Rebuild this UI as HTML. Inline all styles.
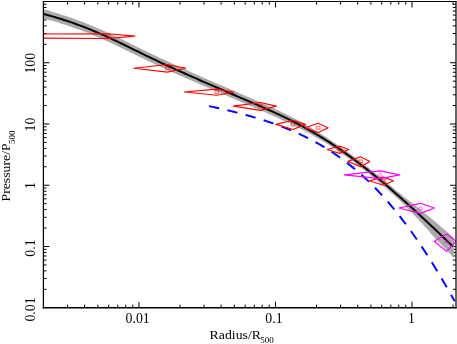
<!DOCTYPE html>
<html><head><meta charset="utf-8"><title>Pressure profile</title>
<style>
html,body{margin:0;padding:0;background:#fff;}
body{width:457px;height:344px;overflow:hidden;font-family:"Liberation Serif",serif;}
svg{display:block;will-change:transform;}
text{font-family:"Liberation Serif",serif;font-size:13.8px;fill:#000;}
.sub{font-size:9.0px;}
</style></head><body>
<svg width="457" height="344" viewBox="0 0 457 344">
<rect x="0" y="0" width="457" height="344" fill="#fff"/>
<defs><clipPath id="c"><rect x="43.4" y="1.5" width="412.6" height="306.25"/></clipPath></defs>
<path d="M67.57 307.75 v-3.15 M67.57 1.50 v3.15 M84.62 307.75 v-3.15 M84.62 1.50 v3.15 M97.85 307.75 v-3.15 M97.85 1.50 v3.15 M108.66 307.75 v-3.15 M108.66 1.50 v3.15 M117.80 307.75 v-3.15 M117.80 1.50 v3.15 M125.72 307.75 v-3.15 M125.72 1.50 v3.15 M132.70 307.75 v-3.15 M132.70 1.50 v3.15 M138.95 307.75 v-6.00 M138.95 1.50 v6.00 M180.05 307.75 v-3.15 M180.05 1.50 v3.15 M204.09 307.75 v-3.15 M204.09 1.50 v3.15 M221.14 307.75 v-3.15 M221.14 1.50 v3.15 M234.37 307.75 v-3.15 M234.37 1.50 v3.15 M245.18 307.75 v-3.15 M245.18 1.50 v3.15 M254.32 307.75 v-3.15 M254.32 1.50 v3.15 M262.24 307.75 v-3.15 M262.24 1.50 v3.15 M269.22 307.75 v-3.15 M269.22 1.50 v3.15 M275.47 307.75 v-6.00 M275.47 1.50 v6.00 M316.57 307.75 v-3.15 M316.57 1.50 v3.15 M340.61 307.75 v-3.15 M340.61 1.50 v3.15 M357.66 307.75 v-3.15 M357.66 1.50 v3.15 M370.89 307.75 v-3.15 M370.89 1.50 v3.15 M381.70 307.75 v-3.15 M381.70 1.50 v3.15 M390.84 307.75 v-3.15 M390.84 1.50 v3.15 M398.76 307.75 v-3.15 M398.76 1.50 v3.15 M405.74 307.75 v-3.15 M405.74 1.50 v3.15 M411.99 307.75 v-6.00 M411.99 1.50 v6.00 M453.09 307.75 v-3.15 M453.09 1.50 v3.15 M43.40 289.31 h3.15 M456.00 289.31 h-3.15 M43.40 278.53 h3.15 M456.00 278.53 h-3.15 M43.40 270.87 h3.15 M456.00 270.87 h-3.15 M43.40 264.94 h3.15 M456.00 264.94 h-3.15 M43.40 260.09 h3.15 M456.00 260.09 h-3.15 M43.40 255.99 h3.15 M456.00 255.99 h-3.15 M43.40 252.44 h3.15 M456.00 252.44 h-3.15 M43.40 249.30 h3.15 M456.00 249.30 h-3.15 M43.40 246.50 h6.00 M456.00 246.50 h-6.00 M43.40 228.06 h3.15 M456.00 228.06 h-3.15 M43.40 217.28 h3.15 M456.00 217.28 h-3.15 M43.40 209.62 h3.15 M456.00 209.62 h-3.15 M43.40 203.69 h3.15 M456.00 203.69 h-3.15 M43.40 198.84 h3.15 M456.00 198.84 h-3.15 M43.40 194.74 h3.15 M456.00 194.74 h-3.15 M43.40 191.19 h3.15 M456.00 191.19 h-3.15 M43.40 188.05 h3.15 M456.00 188.05 h-3.15 M43.40 185.25 h6.00 M456.00 185.25 h-6.00 M43.40 166.81 h3.15 M456.00 166.81 h-3.15 M43.40 156.03 h3.15 M456.00 156.03 h-3.15 M43.40 148.37 h3.15 M456.00 148.37 h-3.15 M43.40 142.44 h3.15 M456.00 142.44 h-3.15 M43.40 137.59 h3.15 M456.00 137.59 h-3.15 M43.40 133.49 h3.15 M456.00 133.49 h-3.15 M43.40 129.94 h3.15 M456.00 129.94 h-3.15 M43.40 126.80 h3.15 M456.00 126.80 h-3.15 M43.40 124.00 h6.00 M456.00 124.00 h-6.00 M43.40 105.56 h3.15 M456.00 105.56 h-3.15 M43.40 94.78 h3.15 M456.00 94.78 h-3.15 M43.40 87.12 h3.15 M456.00 87.12 h-3.15 M43.40 81.19 h3.15 M456.00 81.19 h-3.15 M43.40 76.34 h3.15 M456.00 76.34 h-3.15 M43.40 72.24 h3.15 M456.00 72.24 h-3.15 M43.40 68.69 h3.15 M456.00 68.69 h-3.15 M43.40 65.55 h3.15 M456.00 65.55 h-3.15 M43.40 62.75 h6.00 M456.00 62.75 h-6.00 M43.40 44.31 h3.15 M456.00 44.31 h-3.15 M43.40 33.53 h3.15 M456.00 33.53 h-3.15 M43.40 25.87 h3.15 M456.00 25.87 h-3.15 M43.40 19.94 h3.15 M456.00 19.94 h-3.15 M43.40 15.09 h3.15 M456.00 15.09 h-3.15 M43.40 10.99 h3.15 M456.00 10.99 h-3.15 M43.40 7.44 h3.15 M456.00 7.44 h-3.15 M43.40 4.30 h3.15 M456.00 4.30 h-3.15" stroke="#000" stroke-width="1" fill="none"/>
<g clip-path="url(#c)" fill="none" stroke-linejoin="round">
<path d="M43.40 9.13 L45.98 9.86 L48.56 10.61 L51.15 11.38 L53.73 12.17 L56.31 12.98 L58.89 13.80 L61.48 14.65 L64.06 15.49 L66.64 16.34 L69.22 17.21 L71.81 18.09 L74.39 19.00 L76.97 19.93 L79.55 20.89 L82.14 21.86 L84.72 22.85 L87.30 23.86 L89.88 24.90 L92.47 25.95 L95.05 27.03 L97.63 28.13 L100.21 29.25 L102.79 30.39 L105.38 31.55 L107.96 32.73 L110.54 33.93 L113.12 35.14 L115.71 36.36 L118.29 37.60 L120.87 38.84 L123.45 40.10 L126.04 41.35 L128.62 42.62 L131.20 43.88 L133.78 45.15 L136.37 46.41 L138.95 47.68 L141.53 48.94 L144.11 50.20 L146.70 51.45 L149.28 52.70 L151.86 53.95 L154.44 55.19 L157.03 56.43 L159.61 57.66 L162.19 58.88 L164.77 60.09 L167.35 61.30 L169.94 62.50 L172.52 63.70 L175.10 64.89 L177.68 66.07 L180.27 67.25 L182.85 68.43 L185.43 69.59 L188.01 70.76 L190.60 71.92 L193.18 73.07 L195.76 74.22 L198.34 75.37 L200.93 76.51 L203.51 77.64 L206.09 78.77 L208.67 79.90 L211.26 81.02 L213.84 82.15 L216.42 83.27 L219.00 84.38 L221.58 85.50 L224.17 86.62 L226.75 87.73 L229.33 88.85 L231.91 89.96 L234.50 91.08 L237.08 92.19 L239.66 93.30 L242.24 94.42 L244.83 95.54 L247.41 96.66 L249.99 97.78 L252.57 98.90 L255.16 100.02 L257.74 101.15 L260.32 102.28 L262.90 103.42 L265.49 104.57 L268.07 105.72 L270.65 106.89 L273.23 108.06 L275.82 109.25 L278.40 110.45 L280.98 111.66 L283.56 112.91 L286.14 114.20 L288.73 115.51 L291.31 116.83 L293.89 118.18 L296.47 119.55 L299.06 120.94 L301.64 122.35 L304.22 123.79 L306.80 125.26 L309.39 126.76 L311.97 128.28 L314.55 129.83 L317.13 131.41 L319.72 133.02 L322.30 134.65 L324.88 136.31 L327.46 138.00 L330.05 139.72 L332.63 141.43 L335.21 143.16 L337.79 144.92 L340.37 146.70 L342.96 148.52 L345.54 150.35 L348.12 152.22 L350.70 154.11 L353.29 156.01 L355.87 157.92 L358.45 159.86 L361.03 161.83 L363.62 163.81 L366.20 165.82 L368.78 167.86 L371.36 169.91 L373.95 171.96 L376.53 174.02 L379.11 176.11 L381.69 178.21 L384.28 180.33 L386.86 182.47 L389.44 184.63 L392.02 186.81 L394.61 189.00 L397.19 191.21 L399.77 193.34 L402.35 195.44 L404.93 197.55 L407.52 199.58 L410.10 201.54 L412.68 203.52 L415.26 205.52 L417.85 207.52 L420.43 209.55 L423.01 211.69 L425.59 213.84 L428.18 215.99 L430.76 218.03 L433.34 220.15 L435.92 222.35 L438.51 224.55 L441.09 226.77 L443.67 228.99 L446.25 231.21 L448.84 233.44 L451.42 235.68 L454.00 237.92 L454.00 257.92 L451.42 255.20 L448.84 252.48 L446.25 249.77 L443.67 247.06 L441.09 244.36 L438.51 241.67 L435.92 238.98 L433.34 236.30 L430.76 233.43 L428.18 230.36 L425.59 227.45 L423.01 224.56 L420.43 221.68 L417.85 218.94 L415.26 216.23 L412.68 213.54 L410.10 210.86 L407.52 208.19 L404.93 205.59 L402.35 203.09 L399.77 200.61 L397.19 198.18 L394.61 195.87 L392.02 193.58 L389.44 191.30 L386.86 189.04 L384.28 186.80 L381.69 184.58 L379.11 182.38 L376.53 180.20 L373.95 178.04 L371.36 175.91 L368.78 173.83 L366.20 171.77 L363.62 169.73 L361.03 167.72 L358.45 165.73 L355.87 163.76 L353.29 161.82 L350.70 159.92 L348.12 158.05 L345.54 156.21 L342.96 154.40 L340.37 152.61 L337.79 150.85 L335.21 149.11 L332.63 147.40 L330.05 145.72 L327.46 144.10 L324.88 142.51 L322.30 140.94 L319.72 139.40 L317.13 137.89 L314.55 136.41 L311.97 134.96 L309.39 133.53 L306.80 132.13 L304.22 130.76 L301.64 129.42 L299.06 128.10 L296.47 126.80 L293.89 125.53 L291.31 124.28 L288.73 123.06 L286.14 121.85 L283.56 120.66 L280.98 119.47 L278.40 118.27 L275.82 117.08 L273.23 115.91 L270.65 114.75 L268.07 113.60 L265.49 112.46 L262.90 111.33 L260.32 110.20 L257.74 109.08 L255.16 107.97 L252.57 106.86 L249.99 105.75 L247.41 104.64 L244.83 103.54 L242.24 102.43 L239.66 101.33 L237.08 100.23 L234.50 99.12 L231.91 98.02 L229.33 96.92 L226.75 95.81 L224.17 94.71 L221.58 93.60 L219.00 92.50 L216.42 91.39 L213.84 90.28 L211.26 89.17 L208.67 88.06 L206.09 86.95 L203.51 85.83 L200.93 84.71 L198.34 83.59 L195.76 82.48 L193.18 81.35 L190.60 80.23 L188.01 79.10 L185.43 77.97 L182.85 76.83 L180.27 75.69 L177.68 74.54 L175.10 73.39 L172.52 72.23 L169.94 71.06 L167.35 69.89 L164.77 68.72 L162.19 67.53 L159.61 66.34 L157.03 65.14 L154.44 63.94 L151.86 62.72 L149.28 61.50 L146.70 60.25 L144.11 59.00 L141.53 57.74 L138.95 56.48 L136.37 55.21 L133.78 53.95 L131.20 52.68 L128.62 51.42 L126.04 50.15 L123.45 48.90 L120.87 47.65 L118.29 46.42 L115.71 45.19 L113.12 43.97 L110.54 42.77 L107.96 41.58 L105.38 40.41 L102.79 39.26 L100.21 38.13 L97.63 37.01 L95.05 35.92 L92.47 34.85 L89.88 33.81 L87.30 32.78 L84.72 31.78 L82.14 30.79 L79.55 29.83 L76.97 28.89 L74.39 27.96 L71.81 27.06 L69.22 26.18 L66.64 25.32 L64.06 24.48 L61.48 23.66 L58.89 22.87 L56.31 22.10 L53.73 21.34 L51.15 20.61 L48.56 19.89 L45.98 19.20 L43.40 18.52 Z" fill="#aaaaaa" stroke="none"/>
<path d="M43.40 13.92 L46.35 14.71 L49.29 15.53 L52.24 16.36 L55.18 17.23 L58.13 18.12 L61.08 19.03 L64.02 19.97 L66.97 20.94 L69.91 21.93 L72.86 22.95 L75.81 23.99 L78.75 25.06 L81.70 26.16 L84.64 27.28 L87.59 28.44 L90.54 29.62 L93.48 30.82 L96.43 32.06 L99.37 33.32 L102.32 34.61 L105.27 35.93 L108.21 37.27 L111.16 38.64 L114.11 40.02 L117.05 41.41 L120.00 42.83 L122.94 44.25 L125.89 45.68 L128.84 47.12 L131.78 48.56 L134.73 50.01 L137.67 51.46 L140.62 52.90 L143.57 54.34 L146.51 55.77 L149.46 57.19 L152.40 58.60 L155.35 59.99 L158.30 61.38 L161.24 62.76 L164.19 64.13 L167.13 65.50 L170.08 66.85 L173.03 68.20 L175.97 69.53 L178.92 70.86 L181.86 72.19 L184.81 73.50 L187.76 74.82 L190.70 76.12 L193.65 77.42 L196.59 78.72 L199.54 80.01 L202.49 81.29 L205.43 82.57 L208.38 83.85 L211.32 85.13 L214.27 86.40 L217.22 87.67 L220.16 88.94 L223.11 90.21 L226.05 91.47 L229.00 92.74 L231.95 94.00 L234.89 95.27 L237.84 96.53 L240.78 97.80 L243.73 99.07 L246.68 100.33 L249.62 101.60 L252.57 102.88 L255.52 104.15 L258.46 105.43 L261.41 106.72 L264.35 108.01 L267.30 109.32 L270.25 110.64 L273.19 111.97 L276.14 113.31 L279.08 114.67 L282.03 116.06 L284.98 117.46 L287.92 118.89 L290.87 120.34 L293.81 121.82 L296.76 123.32 L299.71 124.86 L302.65 126.43 L305.60 128.03 L308.54 129.67 L311.49 131.34 L314.44 133.05 L317.38 134.80 L320.33 136.58 L323.27 138.40 L326.22 140.26 L329.17 142.15 L332.11 144.07 L335.06 146.03 L338.00 148.03 L340.95 150.06 L343.90 152.12 L346.84 154.21 L349.79 156.34 L352.73 158.51 L355.68 160.70 L358.63 162.93 L361.57 165.19 L364.52 167.48 L367.46 169.80 L370.41 172.14 L373.36 174.52 L376.30 176.93 L379.25 179.36 L382.19 181.82 L385.14 184.30 L388.09 186.81 L391.03 189.34 L393.98 191.89 L396.93 194.47 L399.87 197.06 L402.82 199.68 L405.76 202.32 L408.71 204.97 L411.66 207.64 L414.60 210.33 L417.55 213.04 L420.49 215.76 L423.44 218.49 L426.39 221.24 L429.33 224.00 L432.28 226.78 L435.22 229.56 L438.17 232.36 L441.12 235.16 L444.06 237.97 L447.01 240.79 L449.95 243.62 L452.90 246.46" stroke="#000" stroke-width="1.95" stroke-linecap="butt"/>
<path d="M209.05 106.11 L210.28 106.37 L211.52 106.63 L212.75 106.90 L213.99 107.17 L215.22 107.44 L216.45 107.71 L217.69 107.98 L218.92 108.26 L220.16 108.54 L221.39 108.82 L222.62 109.10 L223.86 109.39 L225.09 109.68 L226.32 109.97 L227.56 110.26 L228.79 110.56 L230.03 110.86 L231.26 111.16 L232.49 111.46 L233.73 111.77 L234.96 112.08 L236.20 112.39 L237.43 112.70 L238.66 113.02 L239.90 113.34 L241.13 113.67 L242.37 114.00 L243.60 114.33 L244.83 114.66 L246.07 115.00 L247.30 115.34 L248.54 115.69 L249.77 116.04 L251.00 116.39 L252.24 116.74 L253.47 117.10 L254.71 117.47 L255.94 117.84 L257.17 118.21 L258.41 118.58 L259.64 118.96 L260.87 119.35 L262.11 119.74 L263.34 120.13 L264.58 120.53 L265.81 120.93 L267.04 121.34 L268.28 121.75 L269.51 122.17 L270.75 122.59 L271.98 123.02 L273.21 123.45 L274.45 123.89 L275.68 124.33 L276.92 124.78 L278.15 125.23 L279.38 125.69 L280.62 126.15 L281.85 126.63 L283.09 127.10 L284.32 127.58 L285.55 128.07 L286.79 128.57 L288.02 129.07 L289.25 129.58 L290.49 130.09 L291.72 130.61 L292.96 131.14 L294.19 131.68 L295.42 132.22 L296.66 132.77 L297.89 133.32 L299.13 133.89 L300.36 134.46 L301.59 135.04 L302.83 135.62 L304.06 136.22 L305.30 136.82 L306.53 137.43 L307.76 138.05 L309.00 138.68 L310.23 139.31 L311.47 139.96 L312.70 140.61 L313.93 141.27 L315.17 141.94 L316.40 142.62 L317.63 143.31 L318.87 144.01 L320.10 144.71 L321.34 145.43 L322.57 146.16 L323.80 146.90 L325.04 147.64 L326.27 148.40 L327.51 149.17 L328.74 149.94 L329.97 150.73 L331.21 151.53 L332.44 152.34 L333.68 153.16 L334.91 153.99 L336.14 154.84 L337.38 155.69 L338.61 156.55 L339.85 157.43 L341.08 158.32 L342.31 159.22 L343.55 160.13 L344.78 161.06 L346.02 162.00 L347.25 162.95 L348.48 163.91 L349.72 164.88 L350.95 165.87 L352.18 166.87 L353.42 167.88 L354.65 168.91 L355.89 169.95 L357.12 171.00 L358.35 172.07 L359.59 173.14 L360.82 174.24 L362.06 175.34 L363.29 176.47 L364.52 177.60 L365.76 178.75 L366.99 179.91 L368.23 181.09 L369.46 182.28 L370.69 183.49 L371.93 184.71 L373.16 185.94 L374.40 187.19 L375.63 188.46 L376.86 189.73 L378.10 191.03 L379.33 192.34 L380.56 193.66 L381.80 195.00 L383.03 196.36 L384.27 197.73 L385.50 199.11 L386.73 200.51 L387.97 201.93 L389.20 203.36 L390.44 204.80 L391.67 206.27 L392.90 207.74 L394.14 209.24 L395.37 210.75 L396.61 212.27 L397.84 213.81 L399.07 215.37 L400.31 216.94 L401.54 218.53 L402.78 220.13 L404.01 221.75 L405.24 223.38 L406.48 225.03 L407.71 226.70 L408.94 228.38 L410.18 230.08 L411.41 231.79 L412.65 233.52 L413.88 235.26 L415.11 237.02 L416.35 238.79 L417.58 240.58 L418.82 242.39 L420.05 244.21 L421.28 246.05 L422.52 247.90 L423.75 249.76 L424.99 251.65 L426.22 253.54 L427.45 255.45 L428.69 257.38 L429.92 259.32 L431.16 261.28 L432.39 263.25 L433.62 265.24 L434.86 267.24 L436.09 269.25 L437.33 271.28 L438.56 273.32 L439.79 275.38 L441.03 277.45 L442.26 279.54 L443.49 281.64 L444.73 283.75 L445.96 285.88 L447.20 288.02 L448.43 290.17 L449.66 292.34 L450.90 294.52 L452.13 296.71 L453.37 298.92 L454.60 301.14" stroke="#0000ff" stroke-width="1.95" stroke-dasharray="10.3 8.5"/>
<path d="M-400.00 36.10 L108.00 33.70 L134.70 36.10 L108.00 38.50 Z M133.90 68.30 L167.40 64.50 L185.60 68.30 L167.40 72.10 Z M184.50 92.00 L216.70 89.10 L233.90 92.00 L216.70 95.30 Z M233.40 106.10 L260.40 102.50 L276.30 106.10 L260.40 110.40 Z M275.80 124.40 L293.00 120.30 L305.50 124.40 L293.00 129.50 Z M305.20 127.70 L318.20 123.30 L328.10 127.70 L318.20 132.50 Z M327.30 149.50 L339.40 146.00 L348.80 149.50 L339.40 153.40 Z M347.90 161.40 L360.50 156.80 L369.80 161.40 L360.50 166.80 Z M369.40 180.70 L383.40 177.10 L393.50 180.70 L383.40 185.20 Z" stroke="#ff0000" stroke-width="1.15"/>
<path d="M106.15 34.60 h3.70 v3.00 h-3.70 Z M165.55 66.80 h3.70 v3.00 h-3.70 Z M214.85 90.50 h3.70 v3.00 h-3.70 Z M258.55 104.60 h3.70 v3.00 h-3.70 Z M291.15 122.90 h3.70 v3.00 h-3.70 Z M316.35 126.20 h3.70 v3.00 h-3.70 Z M337.55 148.00 h3.70 v3.00 h-3.70 Z M358.65 159.90 h3.70 v3.00 h-3.70 Z M381.55 179.20 h3.70 v3.00 h-3.70 Z" stroke="#ff0000" stroke-width="0.6"/>
<path d="M344.40 174.80 L380.40 170.90 L399.70 174.80 L380.40 178.60 Z M398.90 208.00 L420.50 203.30 L434.40 208.00 L420.50 213.40 Z M434.20 241.30 L446.70 234.00 L456.20 241.30 L446.70 251.40 Z" stroke="#ff00ff" stroke-width="1.2"/>
<path d="M380.40 172.70 L382.55 176.20 L378.25 176.20 Z M420.50 205.90 L422.65 209.40 L418.35 209.40 Z M446.70 239.20 L448.85 242.70 L444.55 242.70 Z" stroke="#ff00ff" stroke-width="0.5"/>
</g>
<g stroke="#000" fill="none" stroke-linecap="square">
<path d="M43.4 1.5 H456.0" stroke-width="1.05"/>
<path d="M43.4 307.75 H456.0" stroke-width="1.3"/>
<path d="M43.4 1.5 V307.75" stroke-width="1.25"/>
<path d="M456.0 1.5 V307.75" stroke-width="1.2"/>
</g>
<text x="137.65" y="323.00" text-anchor="middle">0.01</text><text x="273.97" y="323.00" text-anchor="middle">0.1</text><text x="411.39" y="323.00" text-anchor="middle">1</text>
<text transform="translate(35.20 63.25) rotate(-90)" text-anchor="middle">100</text><text transform="translate(35.20 124.50) rotate(-90)" text-anchor="middle">10</text><text transform="translate(35.20 185.65) rotate(-90)" text-anchor="middle">1</text><text transform="translate(35.20 248.00) rotate(-90)" text-anchor="middle">0.1</text><text transform="translate(35.20 309.45) rotate(-90)" text-anchor="middle">0.01</text>
<text transform="translate(209.6 338.8) scale(1 0.935)">Radius/R<tspan class="sub" dx="-0.6" dy="4.7">500</tspan></text>
<text transform="translate(10.1 201.5) rotate(-90) scale(1 0.935)">Pressure/P<tspan class="sub" dx="-0.6" dy="4.7">500</tspan></text>
</svg>
</body></html>
